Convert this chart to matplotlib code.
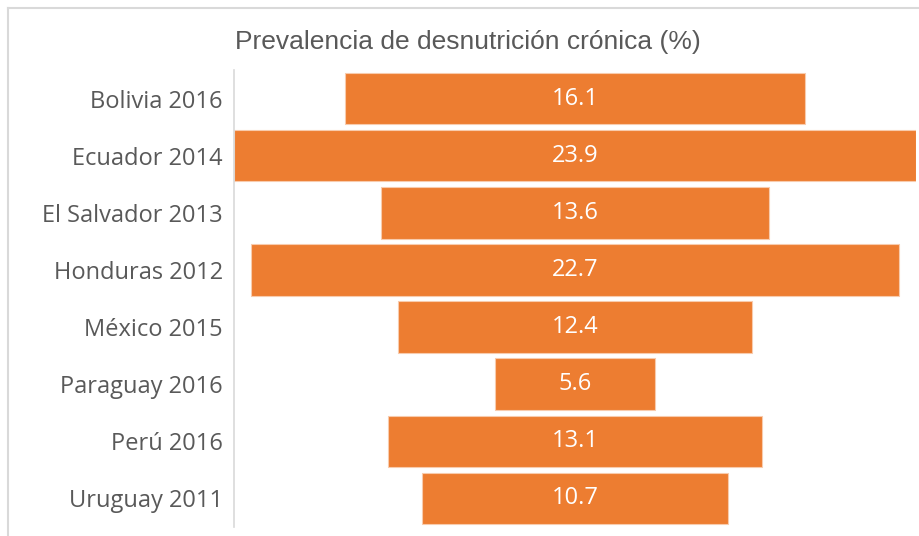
import matplotlib.pyplot as plt
from matplotlib import font_manager

paises = ['Bolivia 2016', 'Ecuador 2014', 'El Salvador 2013', 'Honduras 2012',
          'México 2015', 'Paraguay 2016', 'Perú 2016', 'Uruguay 2011']
valores = [16.1, 23.9, 13.6, 22.7, 12.4, 5.6, 13.1, 10.7]

names = {f.name for f in font_manager.fontManager.ttflist}
title_font = 'Liberation Sans Narrow' if 'Liberation Sans Narrow' in names else 'Liberation Sans'

fig = plt.figure(figsize=(9.19, 5.36), dpi=100)
ax = fig.add_axes([234 / 919, 1 - 527 / 536, (916 - 234) / 919, (527 - 70) / 536])

y = range(len(paises))
lefts = [-v / 2 for v in valores]
bars = ax.barh(y, valores, left=lefts, height=0.9, color='#ED7D31',
               edgecolor='#F8CBAD', linewidth=0.8)
for i, v in enumerate(valores):
    ax.text(0, i, f'{v:.1f}', ha='center', va='center', color='white',
            fontsize=17, family='Open Sans')

ax.set_xlim(-max(valores) / 2, max(valores) / 2)
ax.set_ylim(len(paises) - 0.5, -0.5)
ax.set_yticks(list(y))
ax.set_yticklabels(paises, fontsize=17, color='#595959', family='Open Sans')
ax.tick_params(axis='y', length=0, pad=8)
ax.set_xticks([])
for s in ['top', 'right', 'bottom']:
    ax.spines[s].set_visible(False)
ax.spines['left'].set_color('#D9D9D9')
ax.spines['left'].set_linewidth(1.2)

fig.text(468 / 919, 1 - 42 / 536, 'Prevalencia de desnutrición crónica (%)',
         ha='center', va='center', fontsize=19, color='#595959', family=title_font)

# chart border (only top and left visible in the crop)
fig.add_artist(plt.Line2D([7.5 / 919, 7.5 / 919], [0, 1 - 7.5 / 536],
                          transform=fig.transFigure, color='#D9D9D9', linewidth=1.5))
fig.add_artist(plt.Line2D([7.5 / 919, 1], [1 - 7.5 / 536, 1 - 7.5 / 536],
                          transform=fig.transFigure, color='#D9D9D9', linewidth=1.5))

fig.savefig('out.png', dpi=100)
